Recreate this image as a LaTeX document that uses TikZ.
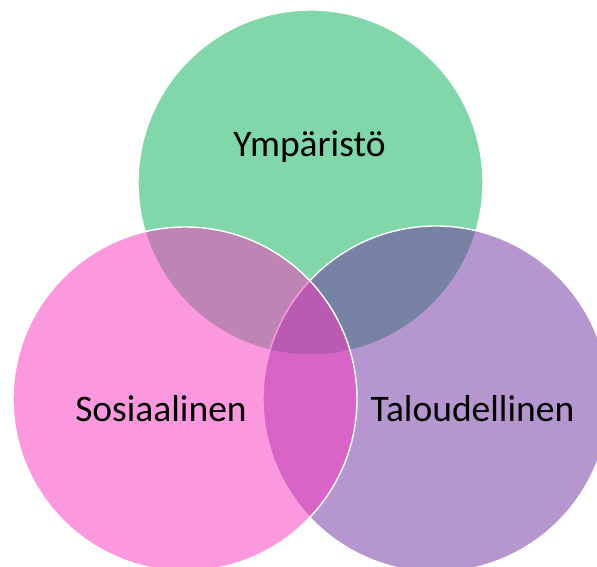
\documentclass[tikz,border=0pt]{standalone}
\usepackage{fontspec}
\setmainfont{Carlito}
\definecolor{ygreen}{RGB}{5,177,85}
\definecolor{spink}{RGB}{251,53,191}
\definecolor{tpurple}{RGB}{111,47,161}
\tikzset{
  venn/.style={fill opacity=0.5, draw=white, draw opacity=1, line width=1.4pt},
  lbl/.style={inner sep=0pt, anchor=base, text=black, font=\fontsize{37.5}{40}\selectfont}
}
\begin{document}
\begin{tikzpicture}[x=1pt,y=-1pt]
\useasboundingbox (0,0) rectangle (597,567);
\begin{scope}
\clip (0,0) rectangle (597,567);
\fill[white] (0,0) rectangle (597,567);
\filldraw[venn, fill=ygreen] (310.5,182.5) circle (172.5);
\filldraw[venn, fill=tpurple] (436,399) circle (173);
\filldraw[venn, fill=spink] (185,399) circle (172);
\end{scope}
\node[lbl] (y) at (309.5,157) {Ympäristö};
\node[lbl] (s) at (161,421) {Sosiaalinen};
\node[lbl] (t) at (472.5,421) {Taloudellinen};
\end{tikzpicture}
\end{document}
